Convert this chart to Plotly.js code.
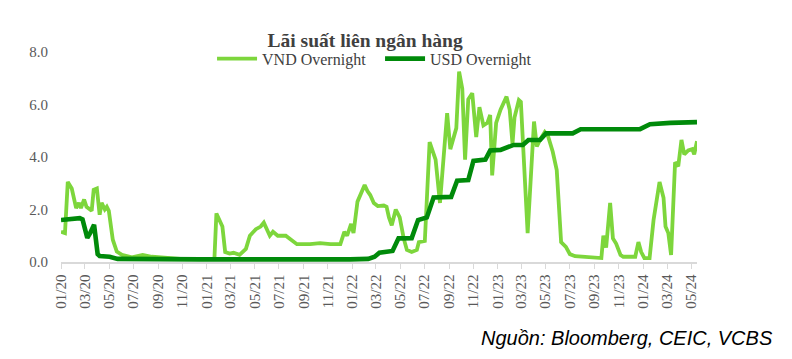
<!DOCTYPE html>
<html>
<head>
<meta charset="utf-8">
<script src="https://cdn.plot.ly/plotly-3.0.1.min.js"></script>
<style>html,body{margin:0;padding:0;background:#fff;}#chart{width:792px;height:359px;}</style>
</head>
<body>
<div id="chart"></div>
<script>
const vndDates = ["2020-01-01","2020-01-11","2020-01-18","2020-01-28","2020-02-08","2020-02-15","2020-02-20","2020-02-28","2020-03-05","2020-03-18","2020-03-23","2020-03-31","2020-04-07","2020-04-12","2020-04-20","2020-04-25","2020-04-30","2020-05-10","2020-05-20","2020-06-02","2020-06-27","2020-07-24","2020-08-16","2020-09-18","2020-10-26","2021-01-15","2021-01-20","2021-01-25","2021-02-02","2021-02-09","2021-02-16","2021-02-27","2021-03-09","2021-03-24","2021-04-09","2021-04-19","2021-05-04","2021-05-16","2021-05-24","2021-06-08","2021-06-16","2021-06-28","2021-07-18","2021-07-28","2021-08-15","2021-09-17","2021-10-12","2021-11-07","2021-12-02","2021-12-12","2021-12-19","2021-12-29","2022-01-04","2022-01-14","2022-02-01","2022-02-08","2022-02-15","2022-02-24","2022-03-06","2022-03-21","2022-03-28","2022-04-03","2022-04-10","2022-04-20","2022-04-30","2022-05-10","2022-05-18","2022-05-30","2022-06-12","2022-06-17","2022-07-02","2022-07-14","2022-07-29","2022-08-09","2022-08-19","2022-08-27","2022-09-04","2022-09-19","2022-09-26","2022-10-04","2022-10-11","2022-10-19","2022-10-29","2022-11-08","2022-11-16","2022-11-26","2022-12-06","2022-12-13","2022-12-18","2022-12-28","2023-01-08","2023-01-23","2023-01-31","2023-02-07","2023-02-12","2023-02-23","2023-02-28","2023-03-17","2023-04-02","2023-04-09","2023-04-17","2023-04-29","2023-05-07","2023-05-19","2023-05-29","2023-06-09","2023-06-21","2023-07-01","2023-07-14","2023-08-21","2023-09-18","2023-09-23","2023-09-30","2023-10-10","2023-10-17","2023-10-25","2023-11-05","2023-11-12","2023-12-12","2023-12-20","2023-12-27","2024-01-04","2024-01-17","2024-01-27","2024-02-11","2024-02-21","2024-02-26","2024-03-04","2024-03-11","2024-03-21","2024-03-29","2024-04-06","2024-04-13","2024-04-23","2024-05-03","2024-05-08","2024-05-15"];
const vndValues = [1.15,1.1,3.05,2.8,2.05,2.25,2.05,2.38,2.1,1.95,2.75,2.8,1.8,2.25,2.0,2.1,1.95,0.85,0.4,0.27,0.18,0.27,0.2,0.17,0.12,0.12,0.13,1.85,1.6,1.35,0.38,0.32,0.35,0.27,0.5,1.0,1.25,1.35,1.5,1.0,1.15,1.0,1.0,0.9,0.68,0.68,0.72,0.68,0.68,1.15,1.0,1.45,1.1,2.3,2.93,2.7,2.55,2.25,2.13,2.15,2.1,1.7,1.4,2.0,1.7,0.9,0.46,0.38,0.46,0.76,0.8,4.57,3.9,2.25,4.4,5.67,4.3,5.1,7.25,6.6,3.9,6.2,6.43,4.76,5.9,5.2,5.3,5.6,3.3,5.3,5.8,6.3,5.8,4.5,5.5,6.17,6.1,1.1,5.35,4.4,4.65,4.95,4.8,4.2,3.5,0.76,0.58,0.3,0.22,0.2,0.15,1.0,0.55,2.25,0.9,0.7,0.27,0.2,0.2,0.76,0.38,0.15,0.15,1.6,3.05,2.45,1.35,1.1,0.27,3.8,3.65,4.65,4.1,4.25,4.3,4.1,4.6];

const usdDates = ["2020-01-01","2020-02-17","2020-02-24","2020-03-07","2020-03-14","2020-03-24","2020-04-02","2020-04-07","2020-05-02","2020-05-22","2020-12-15","2021-01-15","2021-02-09","2021-12-26","2022-02-10","2022-02-26","2022-03-10","2022-04-12","2022-04-27","2022-05-30","2022-06-15","2022-07-07","2022-07-24","2022-09-06","2022-09-21","2022-10-19","2022-11-01","2022-12-01","2022-12-13","2023-01-08","2023-01-25","2023-02-10","2023-03-05","2023-03-19","2023-04-17","2023-05-02","2023-07-08","2023-07-28","2023-12-24","2024-01-18","2024-03-09","2024-05-15"];
const usdValues = [1.6,1.67,1.62,0.92,1.1,1.42,0.3,0.23,0.2,0.12,0.1,0.12,0.1,0.1,0.12,0.2,0.35,0.42,0.9,0.91,1.6,1.7,2.46,2.48,3.1,3.12,3.85,3.9,4.25,4.27,4.38,4.46,4.46,4.65,4.65,4.9,4.9,5.06,5.06,5.25,5.3,5.33];

const tickDates = ["2020-01-01","2020-03-01","2020-05-01","2020-07-01","2020-09-01","2020-11-01","2021-01-01","2021-03-01","2021-05-01","2021-07-01","2021-09-01","2021-11-01","2022-01-01","2022-03-01","2022-05-01","2022-07-01","2022-09-01","2022-11-01","2023-01-01","2023-03-01","2023-05-01","2023-07-01","2023-09-01","2023-11-01","2024-01-01","2024-03-01","2024-05-01"];
const tickLabels = ["01/20","03/20","05/20","07/20","09/20","11/20","01/21","03/21","05/21","07/21","09/21","11/21","01/22","03/22","05/22","07/22","09/22","11/22","01/23","03/23","05/23","07/23","09/23","11/23","01/24","03/24","05/24"];
const yTicks = [0,2,4,6,8];
const yLabels = ["0.0","2.0","4.0","6.0","8.0"];

const serif = "Liberation Serif, Times New Roman, serif";

const traces = [
  {x: vndDates, y: vndValues, name: "VND Overnight", type: "scatter", mode: "lines",
   line: {color: "#7DD63C", width: 3.8}},
  {x: usdDates, y: usdValues, name: "USD Overnight", type: "scatter", mode: "lines",
   line: {color: "#008A0A", width: 4.6}}
];

const layout = {
  width: 792, height: 359,
  margin: {l: 61, r: 95, t: 52, b: 97},
  paper_bgcolor: "#fff", plot_bgcolor: "#fff",
  title: {text: "<b>Lãi suất liên ngân hàng</b>", x: 0.461, xanchor: "center", y: 0.889, yanchor: "middle",
          font: {family: serif, size: 19.5, color: "#404040"}},
  showlegend: true,
  legend: {orientation: "h", x: 0.2375, xanchor: "left", y: 0.968, yanchor: "middle",
           font: {family: serif, size: 16, color: "#404040"}, itemwidth: 40, entrywidth: 113, entrywidthmode: "pixels",
           bgcolor: "rgba(0,0,0,0)", tracegroupgap: 0},
  xaxis: {type: "date", range: ["2020-01-01", "2024-05-15"], tickmode: "array", tickvals: tickDates, ticktext: tickLabels,
          tickangle: -90, ticks: "outside", ticklen: 5, tickcolor: "#d9d9d9", showline: true, linecolor: "#d9d9d9", linewidth: 1.5,
          showgrid: false, zeroline: false, tickfont: {family: serif, size: 15, color: "#595959"}},
  yaxis: {range: [0, 8], tickmode: "array", tickvals: yTicks, ticktext: yLabels, showgrid: false, zeroline: false,
          showline: false, ticks: "", ticklabelstandoff: 12, tickfont: {family: serif, size: 15, color: "#595959"}},
  annotations: [{text: "<i>Nguồn: Bloomberg, CEIC, VCBS</i>", xref: "paper", yref: "paper", x: (775 - 61) / 636, xanchor: "right",
                 y: (262 - 338) / 210, yanchor: "middle", showarrow: false,
                 font: {family: "Liberation Sans, Arial, sans-serif", size: 20, color: "#000"}}]
};

Plotly.newPlot("chart", traces, layout, {displayModeBar: false, staticPlot: true});
</script>
</body>
</html>
